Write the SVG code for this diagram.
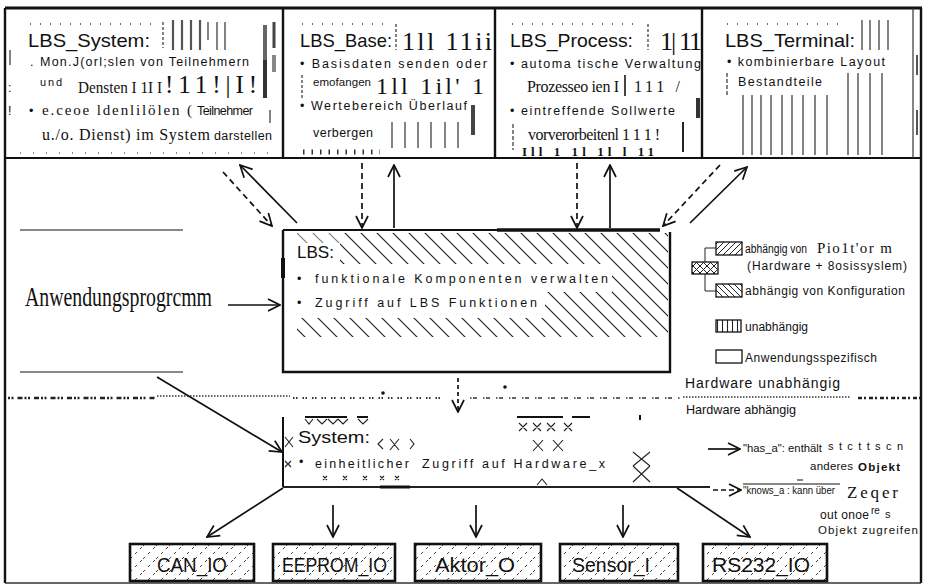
<svg xmlns="http://www.w3.org/2000/svg" width="928" height="585" viewBox="0 0 928 585">
<style>
.sa{font-family:"Liberation Sans",Arial,sans-serif;fill:#111}
.se{font-family:"Liberation Serif","Times New Roman",serif;fill:#111}
.h{font-size:19px}
.b{font-size:12.5px}
.ln{stroke:#111;stroke-width:1.6;fill:none}
.bd{stroke:#111;stroke-width:2.4;fill:none}
.bar{stroke:#555;stroke-width:2.2}
.tk{stroke:#333;stroke-width:1.2}
.dsh{stroke-dasharray:6 4}
.xh{stroke:#222;stroke-width:1.1;fill:none}
.con{stroke:#111;stroke-width:1.7;fill:none}
</style>
<defs>
<marker id="ah" viewBox="0 0 14 14" refX="13" refY="7" markerWidth="14" markerHeight="14" markerUnits="userSpaceOnUse" orient="auto">
<path d="M1,1 L13,7 L1,13" fill="none" stroke="#111" stroke-width="1.7"/>
</marker>
<pattern id="hb" width="16" height="16" patternUnits="userSpaceOnUse">
<path d="M0,0 L16,16 M-4,12 L4,20 M12,-4 L20,4" stroke="#222" stroke-width="1.2"/>
</pattern>
<pattern id="lf" width="6" height="6" patternUnits="userSpaceOnUse">
<path d="M0,6 L6,0 M-1,1 L1,-1 M5,7 L7,5" stroke="#222" stroke-width="1"/>
</pattern>
<pattern id="lb" width="6" height="6" patternUnits="userSpaceOnUse">
<path d="M0,0 L6,6 M-1,5 L1,7 M5,-1 L7,1" stroke="#222" stroke-width="1"/>
</pattern>
<pattern id="lx" width="7" height="7" patternUnits="userSpaceOnUse">
<path d="M0,0 L7,7 M0,7 L7,0" stroke="#222" stroke-width="1"/>
</pattern>
<pattern id="lv" width="5" height="5" patternUnits="userSpaceOnUse">
<path d="M2.5,0 L2.5,5" stroke="#222" stroke-width="1.1"/>
</pattern>
<pattern id="bx" width="13" height="13" patternUnits="userSpaceOnUse">
<path d="M0,13 L13,0" stroke="#444" stroke-width="1" stroke-dasharray="3 4"/>
</pattern>
</defs>
<rect width="928" height="585" fill="#fff"/>

<!-- outer frame -->
<g id="frame">
<path d="M5,8 L922,8" stroke="#111" stroke-width="3"/>
<path d="M5,8 L5,583" stroke="#111" stroke-width="2.4"/>
<path d="M921,8 L921,583" stroke="#111" stroke-width="2.4"/>
<path d="M5,583 L921,583" stroke="#333" stroke-width="1.5"/>
<path d="M5,158 L921,158" stroke="#111" stroke-width="2.2"/>
<path d="M913,8 L913,158" stroke="#333" stroke-width="1.2"/>
<path d="M917,55 L917,75 M917,110 L917,135" stroke="#555" stroke-width="2"/>
</g>

<g id="lbs-system">
<path d="M283,8 L283,158" class="bd"/>
<path d="M30,24 L155,24" stroke="#666" stroke-width="2" stroke-dasharray="1 9"/>
<text class="sa h" x="28" y="47" textLength="122" lengthAdjust="spacingAndGlyphs">LBS_System:</text>
<path d="M163,22 L163,48" class="tk" stroke-dasharray="3 2"/>
<path d="M173,20 L173,50 M182,20 L182,50 M191,20 L191,50 M200,20 L200,50" class="bar"/>
<path d="M208,22 L208,40 M217,22 L217,50 M225,22 L225,50" class="tk"/>
<path d="M265,25 L265,98" stroke="#666" stroke-width="4"/>
<path d="M265,60 L265,98" stroke="#333" stroke-width="4"/>
<path d="M274,22 L274,48" stroke="#444" stroke-width="3"/>
<path d="M274,55 L274,72" stroke="#888" stroke-width="4"/>
<path d="M10,50 L10,65 M270,110 L270,123" class="tk"/>
<text class="sa b" x="30" y="66">.</text>
<text class="sa b" x="40" y="66" textLength="209" lengthAdjust="spacing">Mon.J(orl;slen von Teilnehmern</text>
<text class="sa" font-size="11" x="40" y="86" textLength="22">und</text>
<text class="se" font-size="17" x="78" y="93" textLength="84" lengthAdjust="spacingAndGlyphs">Densten I 1I I</text>
<text class="se" font-size="25" x="165" y="93" textLength="92" lengthAdjust="spacing" fill="#444">!11!|I!</text>
<text class="sa b" x="8" y="92">:</text>
<text class="sa b" x="8" y="115">!</text>
<text class="sa b" x="29" y="115">•</text>
<text class="se" font-size="15" x="42" y="115" textLength="150" lengthAdjust="spacing">e.ceoe ldenlilölen (</text>
<text class="sa b" x="197" y="115" textLength="56" lengthAdjust="spacing">Teilnehmer</text>
<text class="se" font-size="16" x="42" y="140" textLength="168" lengthAdjust="spacing">u./o. Dienst) im System</text>
<text class="sa b" x="214" y="140" textLength="58" lengthAdjust="spacing">darstellen</text>
<path d="M20,153 L270,153" stroke="#666" stroke-width="1.5" stroke-dasharray="1 12"/>
</g>

<g id="lbs-base">
<path d="M495,8 L495,158" class="bd"/>
<path d="M302,24 L390,24" stroke="#666" stroke-width="2" stroke-dasharray="1 9"/>
<text class="sa h" x="300" y="47" textLength="92" lengthAdjust="spacingAndGlyphs">LBS_Base:</text>
<path d="M396,24 L396,50" class="tk" stroke-dasharray="3 2"/>
<text class="se" font-size="26" x="402" y="50" textLength="90" lengthAdjust="spacing" fill="#333">1ll 11ii</text>
<text class="sa b" x="300" y="68" textLength="187" lengthAdjust="spacing">• Basisdaten senden oder</text>
<path d="M302,75 L302,100" class="tk" stroke-dasharray="3 2"/>
<text class="sa" font-size="11.5" x="313" y="86" textLength="58" lengthAdjust="spacing">emofangen</text>
<text class="se" font-size="24" x="376" y="94" textLength="108" lengthAdjust="spacing" fill="#333">1ll 1il' 1</text>
<text class="sa b" x="300" y="110" textLength="167" lengthAdjust="spacing">• Wertebereich Überlauf</text>
<path d="M473,105 L473,135" stroke="#444" stroke-width="4"/>
<text class="sa b" x="313" y="137" textLength="60" lengthAdjust="spacing">verbergen</text>
<path d="M392,122 L392,148 M405,122 L405,148 M418,122 L418,148 M431,122 L431,148 M445,122 L445,148 M458,122 L458,148" class="tk" stroke-width="1.6"/>
<path d="M303,152 L380,152" stroke="#333" stroke-width="5" stroke-dasharray="1.5 7"/>
</g>

<g id="lbs-process">
<path d="M702,8 L702,158" class="bd"/>
<path d="M512,24 L640,24" stroke="#666" stroke-width="2" stroke-dasharray="1 9"/>
<text class="sa h" x="510" y="47" textLength="123" lengthAdjust="spacingAndGlyphs">LBS_Process:</text>
<path d="M648,24 L648,50" class="tk" stroke-dasharray="3 2"/>
<text class="se" font-size="26" x="660" y="50" textLength="42" lengthAdjust="spacing" fill="#333">1| 11</text>
<text class="sa b" x="510" y="68" textLength="191" lengthAdjust="spacing">• automa tische Verwaltung</text>
<text class="se" font-size="16" x="527" y="92" textLength="92" lengthAdjust="spacing" fill="#333">Prozesseo ien I</text>
<path d="M625,75 L625,96" stroke="#444" stroke-width="2"/>
<text class="se" font-size="16" x="634" y="92" textLength="46" lengthAdjust="spacing" fill="#333">111 /</text>
<path d="M698,98 L698,118" stroke="#333" stroke-width="4"/>
<text class="sa b" x="510" y="115" textLength="165" lengthAdjust="spacing">• eintreffende Sollwerte</text>
<path d="M513,124 L513,150" class="tk" stroke-dasharray="4 2"/>
<text class="se" font-size="16" x="528" y="140" textLength="132" lengthAdjust="spacing">vorverorbeitenl 1 1 1 !</text>
<path d="M683,122 L683,152" stroke="#222" stroke-width="2"/>
<text class="se" font-size="13" font-weight="bold" x="522" y="156" textLength="132" lengthAdjust="spacing" fill="#333">Ill 1 1l 1l l  11</text>
</g>

<g id="lbs-terminal">
<path d="M727,24 L840,24" stroke="#666" stroke-width="2" stroke-dasharray="1 9"/>
<text class="sa h" x="725" y="47" textLength="130" lengthAdjust="spacingAndGlyphs">LBS_Terminal:</text>
<path d="M862,20 L862,50 M870,20 L870,50 M879,20 L879,50 M888,20 L888,50" class="tk" stroke-width="1.4"/>
<text class="sa b" x="727" y="66" textLength="158" lengthAdjust="spacing">• kombinierbare Layout</text>
<path d="M727,73 L727,97" class="tk" stroke-dasharray="4 2"/>
<text class="sa b" x="738" y="86" textLength="84" lengthAdjust="spacing">Bestandteile</text>
<path d="M743,95 L743,155 M752,95 L752,155 M761,95 L761,155 M771,95 L771,155 M782,95 L782,155 M792,95 L792,155 M803,95 L803,155 M815,95 L815,155 M827,95 L827,155 M848,73 L848,155 M858,73 L858,155 M870,73 L870,155 M882,73 L882,155" class="tk" stroke-width="1.4"/>
</g>

<g id="anwendungsprogramm">
<path d="M20,230 L183,230 M20,372 L183,372" stroke="#111" stroke-width="1.2"/>
<text class="se" font-size="27" x="25" y="306" textLength="187" lengthAdjust="spacingAndGlyphs">Anwendungsprogrcmm</text>
</g>

<g id="lbs">
<rect x="340" y="233" width="328" height="31" fill="url(#hb)"/>
<rect x="297" y="233" width="43" height="10" fill="url(#hb)" opacity="0.6"/>
<rect x="612" y="264" width="56" height="28" fill="url(#hb)"/>
<rect x="545" y="292" width="123" height="26" fill="url(#hb)"/>
<rect x="297" y="318" width="371" height="19" fill="url(#hb)"/>
<rect x="296" y="244" width="40" height="17" fill="#fff"/>
<path d="M283,230 L283,372 L670,372 L670,232" class="bd"/>
<path d="M283,230 L497,230" stroke="#111" stroke-width="2"/>
<path d="M497,230 L660,230" stroke="#111" stroke-width="3.5"/>
<path d="M283,258 L283,278" stroke="#111" stroke-width="4"/>
<text class="sa" font-size="17" x="297" y="258" textLength="37" lengthAdjust="spacingAndGlyphs">LBS:</text>
<text class="sa b" x="297" y="283">•</text>
<text class="sa b" x="315" y="283" textLength="293" lengthAdjust="spacing">funktionale Komponenten verwalten</text>
<text class="sa b" x="297" y="307">•</text>
<text class="sa b" x="315" y="307" textLength="222" lengthAdjust="spacing">Zugriff auf LBS Funktionen</text>
</g>

<g id="legend">
<rect x="716" y="242" width="26" height="13" fill="url(#lf)" stroke="#111" stroke-width="1.3"/>
<rect x="692" y="262" width="26" height="12" fill="url(#lx)" stroke="#111" stroke-width="1.3"/>
<rect x="716" y="284" width="26" height="13" fill="url(#lb)" stroke="#111" stroke-width="1.3"/>
<rect x="716" y="320" width="25" height="12" fill="url(#lv)" stroke="#111" stroke-width="1.3"/>
<rect x="716" y="350" width="26" height="13" fill="none" stroke="#111" stroke-width="1.3"/>
<path d="M705,262 L705,248 L716,248 M705,274 L705,291 L716,291" stroke="#222" stroke-width="1" fill="none"/>
<text class="sa" font-size="12" x="745" y="253" textLength="62" lengthAdjust="spacingAndGlyphs">abhängig von</text>
<text class="se" font-size="15" x="817" y="253" textLength="75" lengthAdjust="spacing">Pio1t'or m</text>
<text class="sa" font-size="12" x="747" y="270" textLength="160" lengthAdjust="spacing">(Hardware + 8osissyslem)</text>
<text class="sa" font-size="12" x="745" y="295" textLength="160" lengthAdjust="spacing">abhängig von Konfiguration</text>
<text class="sa" font-size="12" x="745" y="331" textLength="63" lengthAdjust="spacing">unabhängig</text>
<text class="sa" font-size="12" x="745" y="362" textLength="132" lengthAdjust="spacing">Anwendungsspezifisch</text>
</g>

<g id="divider">
<path d="M8,398 L155,398" stroke="#222" stroke-width="2.6" stroke-dasharray="2 1.5 2 4 5 2"/>
<path d="M157,396 L290,396" stroke="#333" stroke-width="1.6" stroke-dasharray="1.5 1.5"/>
<path d="M293,398 L440,398" stroke="#333" stroke-width="1.8" stroke-dasharray="1.5 1.5 1.5 5"/>
<path d="M470,398 L680,398" stroke="#333" stroke-width="1.6" stroke-dasharray="1.5 1.5 4 6"/>
<path d="M683,397 L850,397" stroke="#333" stroke-width="1.6" stroke-dasharray="1.5 1.5"/>
<path d="M858,398 L920,398" stroke="#222" stroke-width="2.6" stroke-dasharray="4 2 2 3"/>
<circle cx="383" cy="393" r="1.8" fill="#111"/>
<circle cx="505" cy="387" r="1.8" fill="#111"/>
<text class="sa" font-size="14" x="685" y="388" textLength="155" lengthAdjust="spacing">Hardware unabhängig</text>
<text class="sa" font-size="13" x="686" y="414" textLength="110" lengthAdjust="spacingAndGlyphs">Hardware abhängig</text>
</g>

<g id="system">
<path d="M283,417 L283,487" stroke="#111" stroke-width="2"/>
<path d="M283,487 L710,487" stroke="#222" stroke-width="2"/>
<path d="M380,487 L410,487" stroke="#111" stroke-width="3"/>
<path d="M305,417 L347,417 M357,417 L368,417 M517,417 L563,417 M572,417 L590,417 M640,415 L640,420" stroke="#111" stroke-width="2"/>
<path d="M305,419 L309,424 L313,419 M317,419 L322,424 L327,419 M328,419 L333,424 L338,419 M338,419 L343,424 L348,419 M358,419 L363,424 L368,419" class="xh"/>
<path d="M519,423 L527,431 M527,423 L519,431 M533,423 L541,431 M541,423 L533,431 M547,423 L555,431 M555,423 L547,431 M564,423 L572,431 M572,423 L564,431" class="xh"/>
<path d="M533,440 L543,451 M543,440 L533,451 M553,440 L563,451 M563,440 L553,451" class="xh"/>
<path d="M390,439 L399,450 M399,439 L390,450 M383,439 L378,444 L383,449 M410,439 L414,444 L410,449" class="xh"/>
<path d="M285,437 L293,447 M293,437 L285,447 M285,461 L291,467 M291,461 L285,467" class="xh"/>
<path d="M633,452 L650,466 M650,452 L633,466 M633,466 L650,482 M650,466 L633,482" class="xh"/>
<path d="M323,476 L327,480 M327,476 L323,480 M343,476 L347,480 M347,476 L343,480 M363,476 L367,480 M367,476 L363,480 M380,476 L384,480 M384,476 L380,480 M395,476 L399,480 M399,476 L395,480" class="xh"/>
<path d="M537,485 L542,479 L547,485" class="xh"/>
<text class="sa" font-size="17" x="298" y="443" textLength="72" lengthAdjust="spacingAndGlyphs">System:</text>
<text class="sa b" x="299" y="466">•</text>
<text class="sa b" x="315" y="468" textLength="94" lengthAdjust="spacing">einheitlicher</text>
<text class="sa b" x="422" y="468" textLength="183" lengthAdjust="spacing">Zugriff auf Hardware_x</text>
</g>

<g id="relation-legend">
<text class="sa" font-size="11.5" x="743" y="452" textLength="79" lengthAdjust="spacingAndGlyphs">"has_a": enthält</text>
<text class="sa" font-size="11" x="828" y="450" textLength="75" lengthAdjust="spacing" fill="#333">stcttscn</text>
<text class="sa" font-size="11.5" x="810" y="470" textLength="43" lengthAdjust="spacing">anderes</text>
<text class="sa" font-size="11.5" font-weight="bold" x="858" y="471" textLength="42" lengthAdjust="spacing">Objekt</text>
<path d="M743,484 L840,484 M797,480 L803,480" stroke="#111" stroke-width="1.2"/>
<text class="sa" font-size="11.5" x="743" y="494" textLength="92" lengthAdjust="spacingAndGlyphs">"knows_a : kann über</text>
<text class="se" font-size="17" x="847" y="498" textLength="51" lengthAdjust="spacing">Zeqer</text>
<text class="sa" font-size="12" x="820" y="519" textLength="49" lengthAdjust="spacing">out onoe</text>
<text class="sa" font-size="10" x="871" y="514">re</text>
<text class="sa" font-size="11" x="885" y="518">s</text>
<text class="sa" font-size="11.5" x="818" y="534" textLength="100" lengthAdjust="spacing">Objekt zugreifen</text>
</g>

<g id="can-io">
<rect x="130" y="544" width="124" height="37" fill="url(#bx)" stroke="#111" stroke-width="2.6"/>
<text class="sa" font-size="21" x="157" y="572" textLength="70" lengthAdjust="spacingAndGlyphs">CAN_IO</text>
</g>
<g id="eeprom-io">
<rect x="273" y="544" width="122" height="37" fill="url(#bx)" stroke="#111" stroke-width="2.6"/>
<text class="sa" font-size="21" x="282" y="572" textLength="105" lengthAdjust="spacingAndGlyphs">EEPROM_IO</text>
</g>
<g id="aktor-o">
<rect x="415" y="544" width="126" height="37" fill="url(#bx)" stroke="#111" stroke-width="2.6"/>
<text class="sa" font-size="21" x="435" y="572" textLength="80" lengthAdjust="spacingAndGlyphs">Aktor_O</text>
</g>
<g id="sensor-i">
<rect x="560" y="544" width="118" height="37" fill="url(#bx)" stroke="#111" stroke-width="2.6"/>
<text class="sa" font-size="21" x="572" y="572" textLength="78" lengthAdjust="spacingAndGlyphs">Sensor_I</text>
</g>
<g id="rs232-io">
<rect x="703" y="544" width="124" height="37" fill="url(#bx)" stroke="#111" stroke-width="2.6"/>
<text class="sa" font-size="21" x="712" y="572" textLength="98" lengthAdjust="spacingAndGlyphs">RS232_IO</text>
</g>

<g id="connectors">
<path d="M297,223 L240,165" class="con" marker-end="url(#ah)"/>
<path d="M223,172 L272,226" class="con dsh" marker-end="url(#ah)"/>
<path d="M362,163 L362,228" class="con dsh" marker-end="url(#ah)"/>
<path d="M394,228 L394,165" class="con" marker-end="url(#ah)"/>
<path d="M577,163 L577,228" class="con dsh" marker-end="url(#ah)"/>
<path d="M610,228 L610,165" class="con" marker-end="url(#ah)"/>
<path d="M720,165 L663,226" class="con dsh" marker-end="url(#ah)"/>
<path d="M690,223 L747,167" class="con" marker-end="url(#ah)"/>
<path d="M228,305 L280,305" class="con" marker-end="url(#ah)"/>
<path d="M157,377 L282,452" class="con" marker-end="url(#ah)"/>
<path d="M458,378 L458,412" class="con" stroke-dasharray="4 3" marker-end="url(#ah)"/>
<path d="M283,488 L207,537" class="con" marker-end="url(#ah)"/>
<path d="M333,505 L333,537" class="con" marker-end="url(#ah)"/>
<path d="M476,505 L476,537" class="con" marker-end="url(#ah)"/>
<path d="M623,505 L623,537" class="con" marker-end="url(#ah)"/>
<path d="M677,488 L750,537" class="con" marker-end="url(#ah)"/>
<path d="M708,449 L740,449" class="con" marker-end="url(#ah)"/>
<path d="M713,490 L741,490" class="con" stroke-dasharray="5 3" marker-end="url(#ah)"/>
</g>
</svg>
